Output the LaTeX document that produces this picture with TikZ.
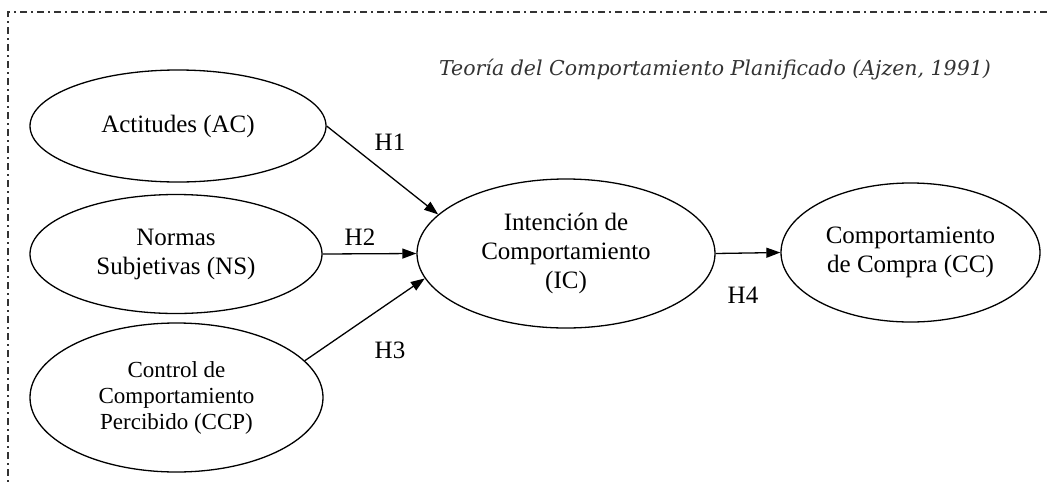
\documentclass[tikz,border=0pt]{standalone}
\usepackage{fontspec}
\setmainfont{Liberation Serif}
\newfontfamily\titlefont{DejaVu Serif}
\usetikzlibrary{shapes.geometric,arrows.meta}
\begin{document}
\begin{tikzpicture}[x=1pt,y=-1pt,
  construct/.style={draw,ellipse,line width=1.3pt,inner sep=0pt,align=center,
    font=\fontsize{25}{29}\selectfont},
  small/.style={font=\fontsize{23}{26}\selectfont},
  link/.style={line width=1.3pt,-{Triangle[length=14pt,width=10pt]}},
  hyp/.style={font=\fontsize{25}{29}\selectfont,inner sep=0pt},
  frame/.style={line width=1.1pt,black!80,dash pattern=on 7pt off 4pt on 2pt off 4pt}]
\useasboundingbox (0,0) rectangle (1047,485);
\draw[frame] (1047,12) -- (8,12) -- (8,485);
\node[font=\titlefont\itshape\fontsize{20.5}{24}\selectfont,text=black!80,inner sep=0pt] (title) at (715,70) {Teoría del Comportamiento Planificado (Ajzen, 1991)};
\node[construct,minimum width=296pt,minimum height=112pt] (ac) at (178,126) {Actitudes (AC)};
\node[construct,minimum width=292pt,minimum height=119pt] (ns) at (176,254) {Normas\\Subjetivas (NS)};
\node[construct,small,minimum width=293pt,minimum height=149pt] (ccp) at (176.5,397.5) {Control de\\Comportamiento\\Percibido (CCP)};
\node[construct,minimum width=298pt,minimum height=149pt] (ic) at (566,253.5) {Intención de\\Comportamiento\\(IC)};
\node[construct,minimum width=259pt,minimum height=139pt] (cc) at (910.5,252.5) {Comportamiento\\de Compra (CC)};
\draw[link] (ac.east) -- (ic.163);
\draw[link] (ns.east) -- (ic.west);
\draw[link] (ccp.16) -- (ic.190);
\draw[link] (ic.east) -- (cc.west);
\node[hyp] (h1) at (390,142) {H1};
\node[hyp] (h2) at (360,237) {H2};
\node[hyp] (h3) at (390,350) {H3};
\node[hyp] (h4) at (743,295) {H4};
\end{tikzpicture}
\end{document}
